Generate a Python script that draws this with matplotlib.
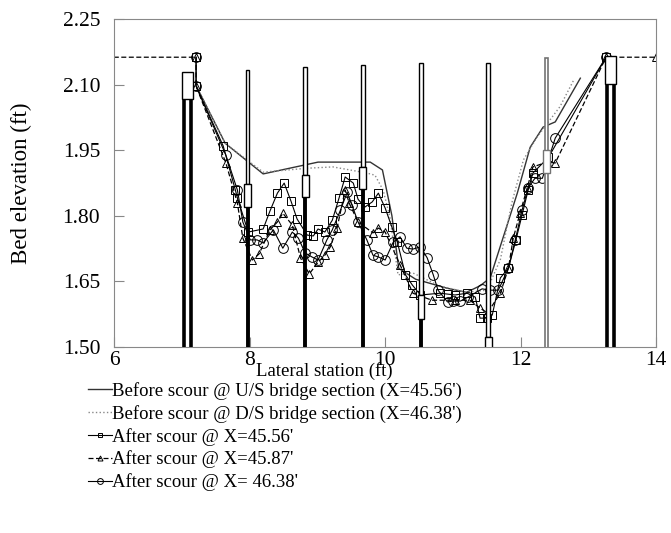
import numpy as np
import matplotlib.pyplot as plt
from matplotlib.patches import Rectangle

plt.rcParams['font.family'] = ['Liberation Serif', 'DejaVu Serif']

# before scour profiles
us_x = [7.22, 7.64, 8.20, 9.01, 9.78, 9.96, 10.10, 10.20, 10.45, 10.90, 11.20, 11.40, 11.55, 11.95, 12.14, 12.33, 12.51, 12.88]
us_y = [2.095, 1.966, 1.896, 1.923, 1.923, 1.905, 1.800, 1.680, 1.655, 1.635, 1.625, 1.640, 1.658, 1.852, 1.957, 2.003, 2.015, 2.115]
ds_x = [7.22, 7.64, 8.20, 8.85, 9.23, 9.73, 9.85, 9.97, 10.07, 10.19, 10.40, 10.80, 11.20, 11.50, 11.70, 11.87, 12.04, 12.24, 12.58, 12.78]
ds_y = [2.095, 1.966, 1.900, 1.909, 1.912, 1.898, 1.893, 1.859, 1.797, 1.665, 1.670, 1.640, 1.625, 1.630, 1.700, 1.830, 1.928, 1.980, 2.050, 2.110]

# after scour @ X=45.56'
sq_x = [7.21, 7.21, 7.61, 7.79, 7.82, 7.98, 8.20, 8.30, 8.41, 8.51, 8.61, 8.70, 8.85, 8.94, 9.01, 9.11, 9.22, 9.32,
        9.41, 9.53, 9.60, 9.70, 9.81, 9.90, 10.00, 10.10, 10.18, 10.30, 10.40, 10.52, 10.81, 10.92, 11.03, 11.21,
        11.33, 11.40, 11.51, 11.58, 11.70, 11.82, 11.93, 12.02, 12.11, 12.18, 12.41, 13.26]
sq_y = [2.163, 2.097, 1.960, 1.859, 1.841, 1.763, 1.770, 1.811, 1.852, 1.875, 1.834, 1.793, 1.756, 1.754, 1.770,
        1.763, 1.790, 1.841, 1.889, 1.875, 1.838, 1.820, 1.832, 1.852, 1.818, 1.774, 1.740, 1.665, 1.642, 1.619, 1.623,
        1.621, 1.619, 1.623, 1.614, 1.566, 1.566, 1.573, 1.658, 1.681, 1.745, 1.802, 1.859, 1.898, 1.934, 2.163]

# after scour @ X=45.87'
tr_x = [5.0, 7.21, 7.21, 7.65, 7.82, 7.90, 8.04, 8.14, 8.30, 8.41, 8.49, 8.63, 8.75, 8.88, 9.01, 9.11, 9.19, 9.29, 9.41,
        9.47, 9.60, 9.82, 9.90, 10.00, 10.22, 10.41, 10.69, 11.03, 11.25, 11.40, 11.51, 11.70, 11.82, 11.89, 11.99,
        12.10, 12.18, 12.39, 12.51, 13.26, 14.0]
tr_y = [2.163, 2.163, 2.097, 1.921, 1.829, 1.749, 1.699, 1.713, 1.768, 1.786, 1.806, 1.779, 1.704, 1.667, 1.694, 1.710,
        1.729, 1.772, 1.859, 1.829, 1.786, 1.761, 1.772, 1.763, 1.688, 1.623, 1.607, 1.607, 1.607, 1.589, 1.578, 1.623,
        1.681, 1.749, 1.806, 1.866, 1.912, 1.923, 1.921, 2.163, 2.163]

# after scour @ X=46.38'
ci_x = [7.21, 7.21, 7.65, 7.82, 7.90, 8.01, 8.11, 8.20, 8.35, 8.49, 8.63, 8.72, 8.82, 8.92, 9.01, 9.14, 9.22, 9.34,
        9.44, 9.51, 9.60, 9.73, 9.82, 9.90, 10.00, 10.12, 10.22, 10.32, 10.41, 10.52, 10.62, 10.71, 10.78, 10.92,
        11.00, 11.11, 11.22, 11.43, 11.55, 11.67, 11.82, 11.92, 12.02, 12.11, 12.21, 12.32, 12.51, 13.26]
ci_y = [2.163, 2.097, 1.939, 1.859, 1.786, 1.745, 1.745, 1.738, 1.768, 1.726, 1.763, 1.749, 1.715, 1.706, 1.699,
        1.745, 1.768, 1.813, 1.854, 1.825, 1.786, 1.745, 1.710, 1.706, 1.699, 1.740, 1.752, 1.726, 1.724, 1.729, 1.704,
        1.665, 1.630, 1.603, 1.605, 1.605, 1.614, 1.633, 1.630, 1.630, 1.681, 1.745, 1.813, 1.864, 1.886, 1.886, 1.978,
        2.163]

labels = ["Before scour @ U/S bridge section (X=45.56')",
          "Before scour @ D/S bridge section (X=46.38')",
          "After scour @ X=45.56'",
          "After scour @ X=45.87'",
          "After scour @ X= 46.38'"]

# measuring rods and piers
rod_x = [7.97, 8.82, 9.67, 10.53, 11.52, 12.38]
rod_top = [2.133, 2.140, 2.145, 2.149, 2.149, 2.161]
box_lo = [1.820, 1.843, 1.861, 1.564, 1.490, 1.898]
box_hi = [1.873, 1.893, 1.912, 1.619, 1.523, 1.950]
rod_col = ['k', 'k', 'k', 'k', 'k', '0.45']
pier_legs = [(7.03, 7.14), (13.27, 13.38)]
pier_box = [(2.067, 2.129), (2.101, 2.166)]

fig = plt.figure(figsize=(6.71, 5.33), dpi=100)
ax = fig.add_axes([0.170, 0.349, 0.808, 0.615])

h1, = ax.plot(us_x, us_y, '-', color='#333333', lw=1.0)
h2, = ax.plot(ds_x, ds_y, ':', color='#888888', lw=1.0)
h3, = ax.plot(sq_x, sq_y, '-', color='k', lw=0.8, marker='s', ms=6, mfc='none', mew=0.7)
h4, = ax.plot(tr_x, tr_y, '--', color='k', lw=0.9, dashes=(4, 2), marker='^', ms=6, mfc='none', mew=0.7)
h5, = ax.plot(ci_x, ci_y, '-', color='k', lw=0.8, marker='o', ms=7, mfc='none', mew=0.7)

# rods
for x, top, lo, hi, c in zip(rod_x, rod_top, box_lo, box_hi, rod_col):
    if c == 'k':
        ax.plot([x, x], [1.5, lo], color='k', lw=2.8, zorder=4, solid_capstyle='butt')
        ax.add_patch(Rectangle((x - 0.028, hi), 0.056, top - hi, fc='white', ec=c, lw=1.0, zorder=4))
    else:
        ax.add_patch(Rectangle((x - 0.028, 1.45), 0.056, top - 1.45, fc='white', ec=c, lw=1.2, zorder=4))
    ax.add_patch(Rectangle((x - 0.05, lo), 0.10, hi - lo, fc='white', ec=c, lw=1.0, zorder=4))

for (a, b), (lo, hi) in zip(pier_legs, pier_box):
    ax.plot([a, a], [1.5, lo], color='k', lw=2.6, zorder=4, solid_capstyle='butt')
    ax.plot([b, b], [1.5, lo], color='k', lw=2.6, zorder=4, solid_capstyle='butt')
    ax.add_patch(Rectangle((a - 0.03, lo), b - a + 0.06, hi - lo, fc='white', ec='k', lw=1.0, zorder=4))

ax.set_xlim(6, 14)
ax.set_ylim(1.5, 2.25)
ax.set_xticks([6, 8, 10, 12, 14])
ax.set_yticks([1.50, 1.65, 1.80, 1.95, 2.10, 2.25])
ax.set_yticklabels(['%.2f' % v for v in [1.50, 1.65, 1.80, 1.95, 2.10, 2.25]])
ax.tick_params(direction='in', length=7, color='#888888', labelsize=15.5)
ax.tick_params(axis='y', pad=10)
ax.tick_params(axis='x', pad=3)
for s in ax.spines.values():
    s.set_color('#888888')

ax.set_xlabel('Lateral station (ft)', fontsize=13.5, ha='left')
ax.xaxis.set_label_coords(0.262, -0.045)
ax.set_ylabel('Bed elevation (ft)', fontsize=16.5)
ax.yaxis.set_label_coords(-0.151, 0.5)

fig.legend([h1, h2, h3, h4, h5], labels, loc='upper left', bbox_to_anchor=(0.131, 0.283),
           frameon=False, fontsize=13.5, handlelength=1.3, handletextpad=0.0, labelspacing=0.26,
           borderpad=0, borderaxespad=0, markerscale=0.6)

fig.savefig('out.png', dpi=100)
